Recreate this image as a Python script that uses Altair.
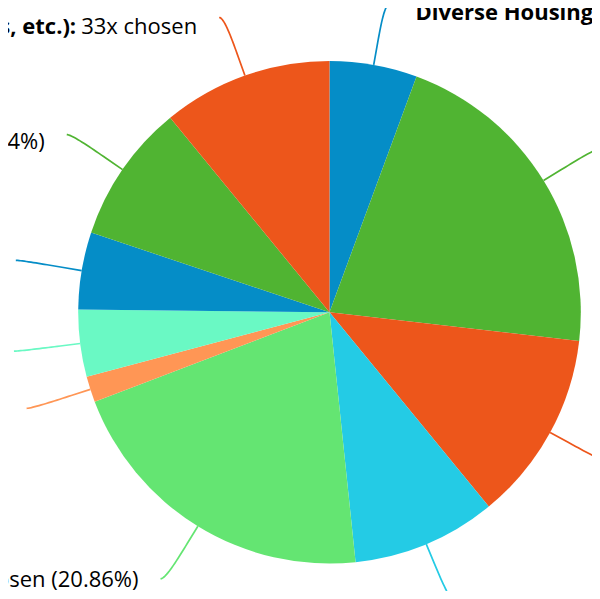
import altair as alt
import pandas as pd

# ---- data ----
names = [
    "Diverse Housing Choices",
    "Walkable Mixed-Use Neighborhoods",
    "Affordable Housing Programs",
    "Cultural & Historic Preservation",
    "Expanded Public Transit Options",
    "Bike Lanes & Trails",
    "Local Business Support",
    "Public Safety Improvements",
    "Clean Water & Air Quality",
    "Community Facilities (Libraries, Schools, etc.)",
]
counts = [17, 64, 37, 28, 63, 5, 13, 15, 27, 33]
colors = ["#058DC7", "#50B432", "#ED561B", "#24CBE5", "#64E572",
          "#FF9655", "#6AF9C4", "#058DC7", "#50B432", "#ED561B"]
show_pct = [True, True, True, True, True, True, True, True, True, False]

total = sum(counts)
values = [
    f"{c}x chosen ({c / total * 100:.2f}%)" if p else f"{c}x chosen"
    for c, p in zip(counts, show_pct)
]

df = pd.DataFrame({
    "idx": list(range(len(names))),
    "name": names,
    "count": counts,
    "value": values,
})

# ---- layout constants ----
W, H = 584, 583
CX, CY = 321.5, 304.2
R = 251.3
RL = 313.0
K = 20.0
FS = 22
FONT = "Open Sans"
GAP_L = 22
GAP_R = 26

color = alt.Color("name:N", scale=alt.Scale(domain=names, range=colors), legend=None)

base = alt.Chart(df)

arcs = base.mark_arc(outerRadius=R).encode(
    theta=alt.Theta("count:Q", stack=True),
    color=color,
    order=alt.Order("idx:Q"),
    x=alt.value(CX),
    y=alt.value(CY),
)

geo = (
    base.transform_joinaggregate(total="sum(count)")
    .transform_window(cum="sum(count)", sort=[alt.SortField("idx")], frame=[None, 0])
    .transform_calculate(a="2*PI*(datum.cum - datum.count/2)/datum.total")
    .transform_calculate(ux="sin(datum.a)", uy="-cos(datum.a)")
    .transform_calculate(side="datum.ux < 0 ? -1 : 1")
    .transform_calculate(
        ex=f"{CX} + {RL}*datum.ux",
        ey=f"{CY} + {RL}*datum.uy",
    )
    .transform_calculate(p0x="datum.ex + datum.side*5")
)

conn = (
    geo.transform_calculate(s="sequence(0, 1.06, 0.05)")
    .transform_flatten(["s"])
    .transform_calculate(
        t="min(datum.s, 1)",
        p2x=f"{CX} + {R + 2 * K}*datum.ux",
        p2y=f"{CY} + {R + 2 * K}*datum.uy",
        p3x=f"{CX} + {R + K}*datum.ux",
        p3y=f"{CY} + {R + K}*datum.uy",
        rx=f"{CX} + {R}*datum.ux",
        ry=f"{CY} + {R}*datum.uy",
    )
    .transform_calculate(
        bx="pow(1-datum.t,3)*datum.p0x + 3*pow(1-datum.t,2)*datum.t*datum.ex"
           " + 3*(1-datum.t)*datum.t*datum.t*datum.p2x + pow(datum.t,3)*datum.p3x",
        by="pow(1-datum.t,3)*datum.ey + 3*pow(1-datum.t,2)*datum.t*datum.ey"
           " + 3*(1-datum.t)*datum.t*datum.t*datum.p2y + pow(datum.t,3)*datum.p3y",
    )
    .transform_calculate(
        px="datum.s > 1.01 ? datum.rx : datum.bx",
        py="datum.s > 1.01 ? datum.ry : datum.by",
    )
    .mark_line(strokeWidth=1.7, interpolate="linear")
    .encode(
        x=alt.X("px:Q", scale=None, axis=None),
        y=alt.Y("py:Q", scale=None, axis=None),
        detail="name:N",
        order=alt.Order("s:Q"),
        color=color,
    )
)

txt = geo.transform_calculate(
    ty="datum.ey + 12 - 4.3*datum.uy",
    nm="datum.name + ':'",
    valw=f"length(datum.value)*{FS * 0.524} + {FS * 0.26}",
    nmw=f"length(datum.name + ':')*{FS * 0.60} + {FS * 0.26}",
)

left = txt.transform_filter("datum.side < 0")
right = txt.transform_filter("datum.side > 0")

enc_xy = dict(
    x=alt.X("tx:Q", scale=None, axis=None),
    y=alt.Y("ty:Q", scale=None, axis=None),
)

left_val = left.transform_calculate(tx=f"datum.p0x - {GAP_L}").mark_text(
    align="right", baseline="alphabetic", font=FONT, fontSize=FS, color="#000000"
).encode(text="value:N", **enc_xy)

left_nm = left.transform_calculate(tx=f"datum.p0x - {GAP_L} - datum.valw").mark_text(
    align="right", baseline="alphabetic", font=FONT, fontSize=FS, fontWeight="bold", color="#000000"
).encode(text="nm:N", **enc_xy)

right_nm = right.transform_calculate(tx=f"datum.p0x + {GAP_R}").mark_text(
    align="left", baseline="alphabetic", font=FONT, fontSize=FS, fontWeight="bold", color="#000000"
).encode(text="nm:N", **enc_xy)

right_val = right.transform_calculate(tx=f"datum.p0x + {GAP_R} + datum.nmw").mark_text(
    align="left", baseline="alphabetic", font=FONT, fontSize=FS, color="#000000"
).encode(text="value:N", **enc_xy)

chart = (
    alt.layer(conn, arcs, left_val, left_nm, right_nm, right_val)
    .properties(width=W, height=H, autosize="none", padding=0)
    .configure_view(stroke=None)
)

chart.save("out.html", embed_options={"renderer": "svg", "actions": False})
